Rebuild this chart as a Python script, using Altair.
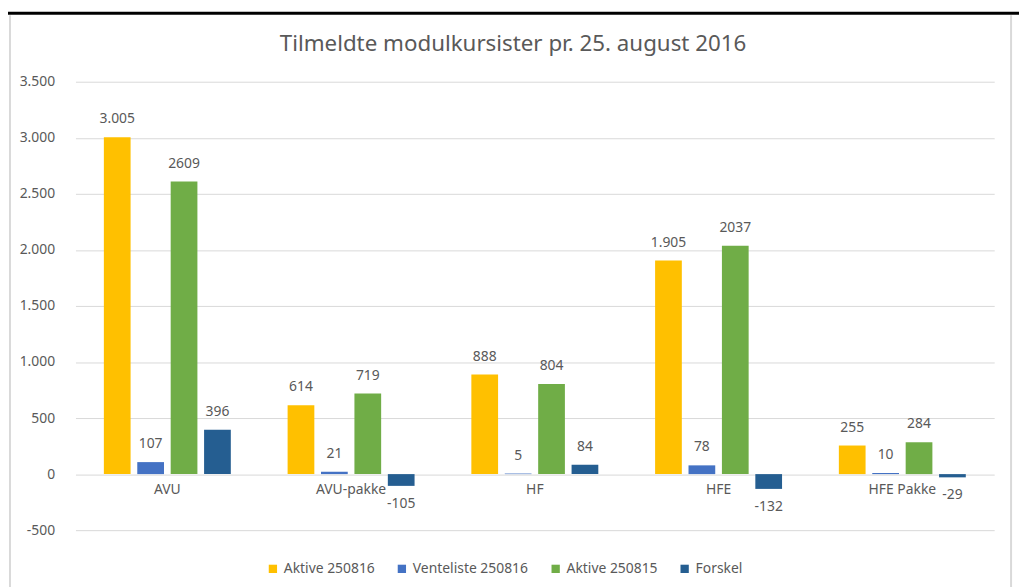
import altair as alt
import pandas as pd

categories = ["AVU", "AVU-pakke", "HF", "HFE", "HFE Pakke"]
series = ["Aktive 250816", "Venteliste 250816", "Aktive 250815", "Forskel"]
aktive_250816 = [3005, 614, 888, 1905, 255]
venteliste_250816 = [107, 21, 5, 78, 10]
aktive_250815 = [2609, 719, 804, 2037, 284]
forskel = [396, -105, 84, -132, -29]
colors = ["#FFC000", "#4472C4", "#70AD47", "#255E91"]
y_ticks = [-500, 0, 500, 1000, 1500, 2000, 2500, 3000, 3500]
title_text = "Tilmeldte modulkursister pr. 25. august 2016"

rows = []
for s, vals in zip(series, [aktive_250816, venteliste_250816, aktive_250815, forskel]):
    for c, v in zip(categories, vals):
        lab = f"{v:,}".replace(",", ".") if s == "Aktive 250816" else str(v)
        rows.append({"kategori": c, "serie": s, "antal": v, "label": lab})
df = pd.DataFrame(rows)
cat_df = pd.DataFrame({"kategori": categories})

FONT = "Noto Sans"
GRAY = "#595959"

x_enc = alt.X("kategori:N", sort=categories,
              scale=alt.Scale(domain=categories, paddingInner=0, paddingOuter=0),
              axis=None)
xoff_enc = alt.XOffset("serie:N", sort=series,
                       scale=alt.Scale(domain=series, paddingInner=0.2, paddingOuter=0.85))
y_enc = alt.Y("antal:Q",
              scale=alt.Scale(domain=[-500, 3500], nice=False, zero=False),
              axis=alt.Axis(values=y_ticks,
                            labelExpr="replace(replace(format(datum.value, ','), ',', '.'), '\u2212', '-')",
                            grid=True, gridColor="#d9d9d9", gridWidth=1,
                            domain=False, ticks=False, labelPadding=21,
                            labelFontSize=14, labelColor=GRAY, labelFont=FONT,
                            title=None))

base = alt.Chart(df)

bars = base.mark_bar().encode(
    x=x_enc,
    xOffset=xoff_enc,
    y=y_enc,
    y2=alt.datum(0),
    color=alt.Color("serie:N", sort=series,
                    scale=alt.Scale(domain=series, range=colors),
                    legend=alt.Legend(orient="none", direction="horizontal",
                                      legendX=192, legendY=484,
                                      title=None, symbolType="square",
                                      symbolSize=70, symbolStrokeWidth=0,
                                      labelFontSize=14, labelColor=GRAY,
                                      labelFont=FONT, columnPadding=20,
                                      labelLimit=300)),
)

pos_labels = base.transform_filter("datum.antal >= 0").mark_text(
    dy=-18, baseline="middle", fontSize=14, font=FONT, color=GRAY
).encode(x=x_enc, xOffset=xoff_enc, y=y_enc, text="label:N")

neg_labels = base.transform_filter("datum.antal < 0").mark_text(
    dy=18, baseline="middle", fontSize=14, font=FONT, color=GRAY
).encode(x=x_enc, xOffset=xoff_enc, y=y_enc, text="label:N")

cat_labels = alt.Chart(cat_df).mark_text(
    dy=16, baseline="middle", fontSize=14, font=FONT, color=GRAY
).encode(x=x_enc, y=alt.datum(0), text="kategori:N")

frame_df = pd.DataFrame({"a": [0]})
title_mark = alt.Chart(frame_df).mark_text(
    text=title_text, fontSize=22.5, font=FONT, color=GRAY,
    align="center", baseline="middle"
).encode(x=alt.value(441), y=alt.value(-38))
top_line = alt.Chart(frame_df).mark_rule(color="black", strokeWidth=3).encode(
    x=alt.value(-70), x2=alt.value(955), y=alt.value(-69))
left_gray = alt.Chart(frame_df).mark_rule(color="#d9d9d9", strokeWidth=2).encode(
    x=alt.value(-66), y=alt.value(-67), y2=alt.value(510))
right_gray = alt.Chart(frame_df).mark_rule(color="#d9d9d9", strokeWidth=2).encode(
    x=alt.value(943), y=alt.value(-67), y2=alt.value(510))

chart = alt.layer(bars, pos_labels, neg_labels, cat_labels, title_mark,
                  top_line, left_gray, right_gray).properties(
    width=926, height=452,
    autosize=alt.AutoSizeParams(type="none"),
    padding={"left": 68, "top": 72, "right": 25, "bottom": 55},
).configure(background="white").configure_view(stroke=None)

chart.save("out.html", embed_options={"renderer": "svg", "actions": False})
